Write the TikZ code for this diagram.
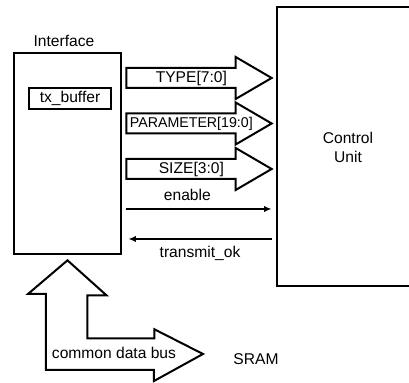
\documentclass[tikz,border=0pt]{standalone}
\usepackage{fontspec}
\setmainfont{Liberation Sans}
\usetikzlibrary{arrows.meta}
\usetikzlibrary{calc}

\newcommand{\busarrow}[3]{%
\draw[bus] ($(iface.east|-0,#1)+(4,-10)$) -- ($(cu.west|-0,#1)+(-40,-10)$) -- ++(0,-11)
  -- ($(cu.west|-0,#1)+(-4,0)$) -- ($(cu.west|-0,#1)+(-40,21)$) -- ++(0,-11)
  -- ($(iface.east|-0,#1)+(4,10)$) -- cycle;
\node[lbl, #3] at ($(iface.east|-0,#1)+(69,0)$) {#2};}

\begin{document}
\begin{tikzpicture}[x = 0.5pt, y = -0.5pt]
\tikzstyle{lbl}=[inner sep = 0pt, font = \fontsize{7.8}{9.5}\selectfont]
\tikzstyle{box}=[draw, line width = 1.35pt, inner sep = 0pt]
\tikzstyle{bus}=[draw, line width = 1pt, line join = miter]
\tikzstyle{wire}=[line width = 0.8pt, -{Latex[length = 3.8pt, width = 3.2pt]}]
\useasboundingbox (0,0) rectangle (409,383);
\node[box, minimum width = 53.5pt, minimum height = 100.5pt] (iface) at (67.5,153.5) {};
\node[box, minimum width = 82pt, minimum height = 139.5pt] (cu) at (359,146.5) {};
\node[lbl] (ifacetext) at (64,41) {Interface};
\node[box, lbl, line width = 1.35pt, minimum width = 41pt, minimum height = 10.5pt] (txbuf) at (70,98.5) {tx\_buffer};
\node[lbl, align = center] (cutext) at (348,147) {Control\\Unit};
\busarrow{78}{TYPE[7:0]}{}
\busarrow{123.5}{PARAMETER[19:0]}{font = \fontsize{7.1}{8}\selectfont}
\busarrow{169}{SIZE[3:0]}{}
\draw[wire] ($(iface.east|-0,209)+(4,0)$) -- ($(cu.west|-0,209)+(-4,0)$)
  node[lbl, pos = 0.42, above = 4pt] (entext) {enable};
\draw[wire] ($(cu.west|-0,239)+(-4,0)$) -- ($(iface.east|-0,239)+(6,0)$)
  node[lbl, pos = 0.5, below = 3pt] (oktext) {transmit\_ok};
\coordinate (busend) at (203,354);
\draw[bus] ($(iface.south)+(0,5)$) -- ++(39,35) -- ++(-19,0) -- ++(0,43) -- ++(67,0) -- ++(0,-9)
  -- (busend) -- ++(-49,27) -- ++(0,-11) -- ++(-108,0) -- ++(0,-76) -- ++(-18,0) -- cycle;
\node[lbl] (bustext) at (114,353) {common data bus};
\node[lbl] (sram) at (256,359) {SRAM};
\end{tikzpicture}
\end{document}
